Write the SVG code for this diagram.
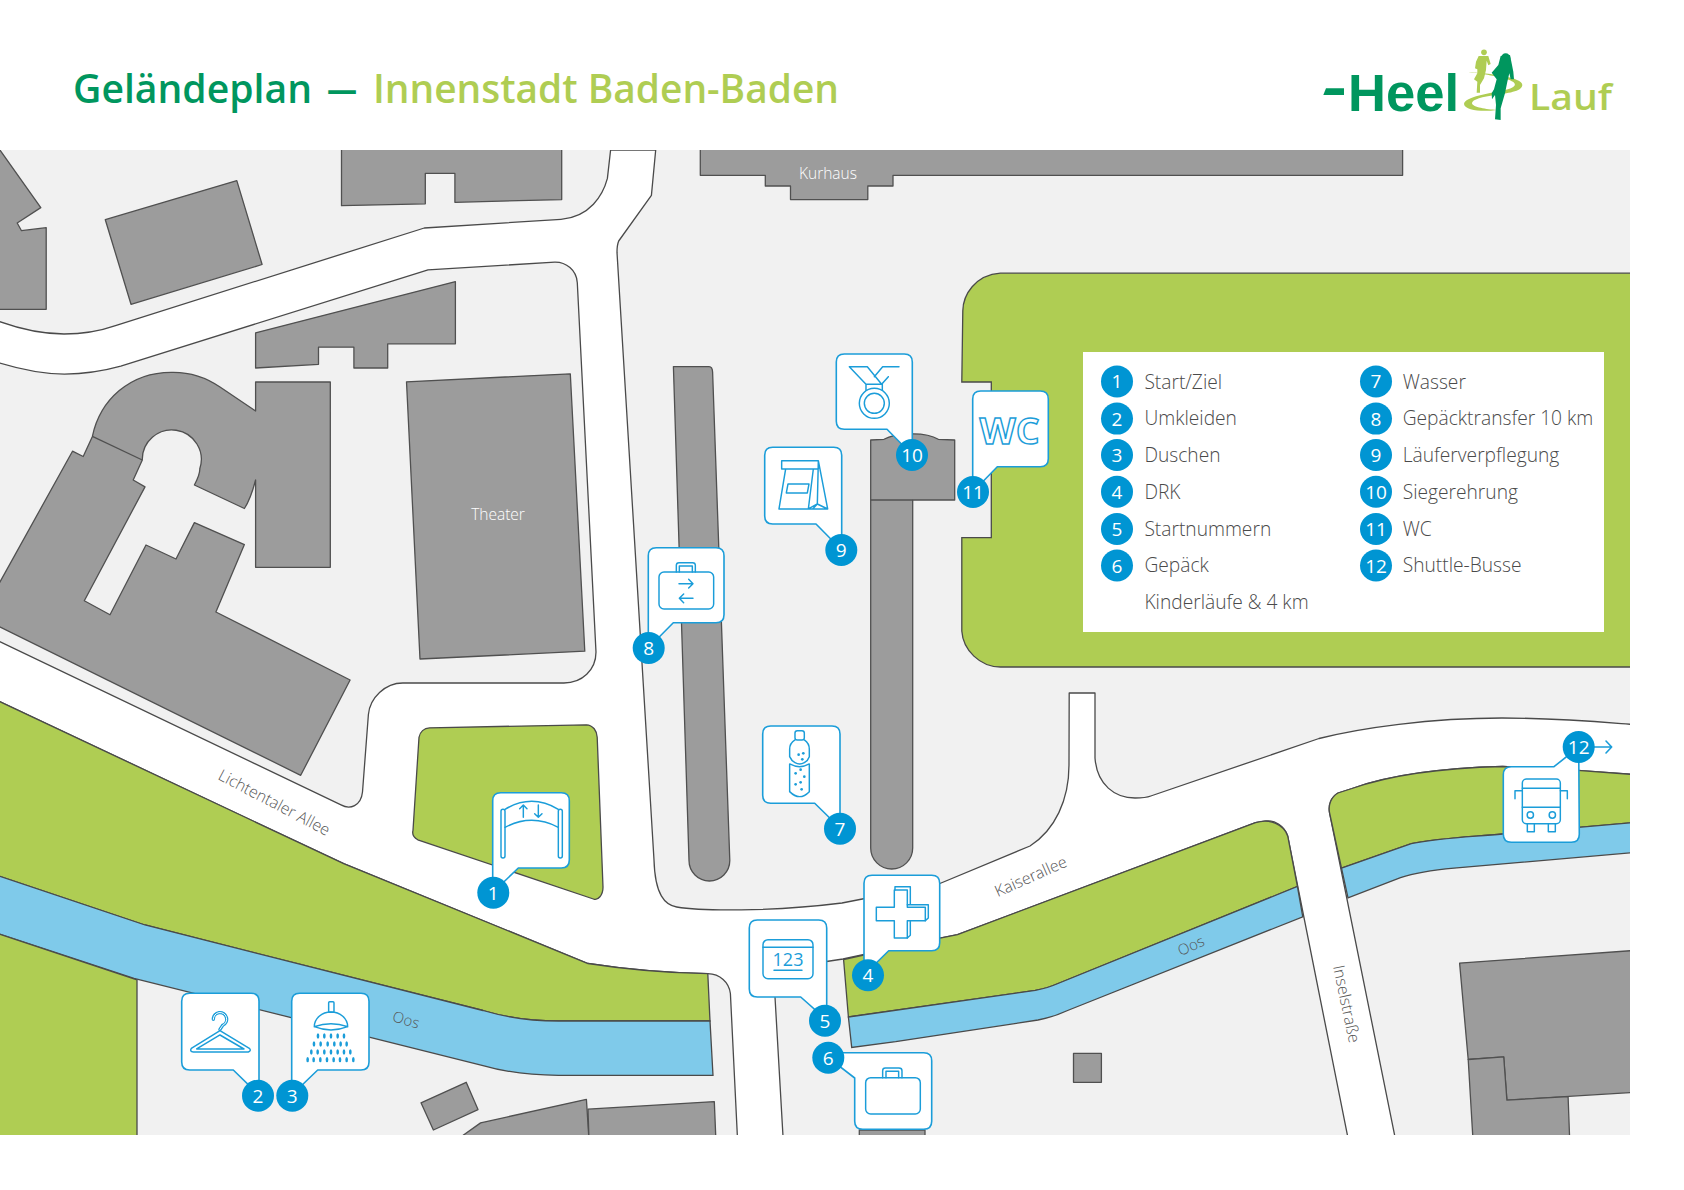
<svg xmlns="http://www.w3.org/2000/svg" width="1684" height="1190" viewBox="0 0 1684 1190">
<style>
text{font-family:"Open Sans","Noto Sans","Liberation Sans",sans-serif}
.b{fill:#9c9c9c;stroke:#505050;stroke-width:1.3;stroke-linejoin:round}
.r{fill:#fff;stroke:#4a4a4a;stroke-width:1.3;stroke-linejoin:round}
.g{fill:#afcd53;stroke:#4a4a4a;stroke-width:1.3}
.w{fill:#7fcaea;stroke:#4a4a4a;stroke-width:1.3}
.n{fill:none}
.c{fill:#fff;stroke:#1b9dd9;stroke-width:1.6;stroke-linejoin:round}
.d{fill:#0095d3}
.t{fill:#fff;font-size:19px;text-anchor:middle}
.l{fill:#4a4a4a;font-size:19.2px;font-weight:300}
.s{fill:#555;font-size:16px;font-weight:300;text-anchor:middle}
.m{fill:#fff;font-size:15.5px;font-weight:300;text-anchor:middle}
.i{fill:none;stroke:#1b9dd9;stroke-width:4.4;stroke-linejoin:round;stroke-linecap:round}
.f{fill:#1b9dd9;stroke:none}
</style>
<defs>
<clipPath id="map"><rect x="0" y="150" width="1630" height="985"/></clipPath>
</defs>
<g id="title">
<text x="73" y="103" font-size="39" font-weight="600" fill="#00965e" textLength="239" lengthAdjust="spacingAndGlyphs">Geländeplan</text>
<text x="327" y="103" font-size="39" font-weight="600" fill="#00965e" textLength="30" lengthAdjust="spacingAndGlyphs">—</text>
<text x="373" y="103" font-size="39" font-weight="600" fill="#afcd53" textLength="466" lengthAdjust="spacingAndGlyphs">Innenstadt Baden-Baden</text>
</g>
<g id="logo">
<path d="M1323.3 95L1326 88.3H1344V95Z" fill="#00965e"/>
<text x="1348" y="111" font-size="51" font-weight="700" fill="#00965e" style="font-family:'Liberation Sans',sans-serif" textLength="111" lengthAdjust="spacingAndGlyphs">Heel</text>
<text x="1529" y="110" font-size="36" font-weight="600" fill="#afcd53" textLength="83" lengthAdjust="spacingAndGlyphs">Lauf</text>
<g transform="translate(1460 40) scale(.3333)">
<path fill="#afcd53" d="M25 96C90 100 188 112 187 135C186 155 140 160 105 165C70 170 35 178 36 190C38 202 80 208 110 210C70 216 14 212 12 192C14 170 90 160 135 150C160 144 172 136 160 126C140 112 70 102 25 96Z"/>
<circle cx="72" cy="37" r="8.5" fill="#afcd53"/>
<path fill="#afcd53" d="M56 48L85 48L92 72L85 76L80 62L78 90L72 115L60 135L60 158L50 158L52 125L42 118L52 100L52 88L45 85L48 65Z"/>
<ellipse cx="137" cy="55" rx="14" ry="15" fill="#00965e"/>
<path fill="#00965e" d="M122 48L150 45L155 70L160 95L162 118L152 118L148 100L142 125L135 160L122 205L122 240L105 238L108 195L105 165L96 178L95 160L102 148L110 118L95 98L115 75Z"/>
</g>
</g>
<g id="map-base" clip-path="url(#map)">
<rect x="0" y="150" width="1630" height="985" fill="#f1f1f1"/>
<path class="r" d="M-10 318C20 330 42 334 64 334C82 334 100 331 115.5 325.6L424.3 228L561 219.3C590 217 603 195 607.4 178.4L610.6 150L655.7 150L651.4 195.4L618.7 241C617 245 617 250 617 252.4L654 860C655 895 665 905 676.7 907C700 911 770 912 842 903L938.7 884L1030 846C1055 830 1069 800 1069 765L1069.2 693H1095V758C1097 785 1115 798 1135 798C1142 798 1147 797.5 1150.8 796L1319 738.5C1360 728 1430 718 1502 718C1560 718 1600 722 1640 725L1640 775L1577.7 770.3L1502.6 766.5C1440 768 1390 775 1352 788.5L1338 793C1331 797 1328 805 1329.6 813L1396.6 1145H1349.4L1287.7 836C1284 825 1274 820 1266 821L1255.5 822.7L957.5 934.6L938.7 938.4L843 959L790 967C778 970 773 980 775 997L783.5 1145H737.8L730.4 993.5C729 982 720 974 707.8 973.7C670 973 630 970 588 963.5L343.7 863.7L-10 697L-10 637L341 804.9C350 810 361 806 362.5 792L368.4 714.5C370 698 385 683 402.8 683H563.9C582 683 596 670 596 652L577.3 282.7C576.5 270 566 262 554.8 262.2L428 269.8L120.8 366.2C100 372 82 374 64.4 374.2C42 374 20 370 -10 360Z"/>
<path class="g" d="M-10 697L343.7 863.7L588 963.5C630 970 670 973 707.8 973.7L710 1021H558.5C530 1021 505 1017 483 1010.5L145 925L-10 873Z"/>
<path class="w" d="M-10 873L145 925L483 1010.5C505 1017 530 1021 558.5 1021H710L713 1075.4H558.5C530 1075 505 1072 483 1065.6L134 978.3L-10 931Z"/>
<path class="g" d="M-10 931L137 980V1145H-10Z"/>
<path class="g" d="M429.6 727.8L586.4 724.8C593 725 597 731 597.2 737.3L603 887.2C603 895 598 901 593.4 899L417.8 839.8C413 837 412 834 413 830.3L419 737.3C420 732 424 728 429.6 727.8Z"/>
<path class="g" d="M1640 273.2H1000.4C975 275 963 295 962.8 311L961.8 382H991.3V537.7H961.8V631C963 650 980 667 1000.4 667H1640Z"/>
<path class="g" d="M843.6 959.7L938.7 938.4L957.5 934.6L1255.5 822.7C1270 818 1284 825 1287.7 836L1297.4 886.5L1056.8 984C1050 987 1042 989 1035.3 990.4L848.4 1017Z"/>
<path class="w" d="M848.4 1017L1035.3 990.4C1042 989 1050 987 1056.8 984L1297.4 886.5L1302.8 916.8L1067.6 1010.5C1058 1015 1048 1018 1038 1020L895.7 1041.7L851.7 1047.4Z"/>
<path class="g" d="M1329.6 813C1328 805 1331 797 1338 793L1352 788.5C1390 775 1440 768 1502.6 766.5L1577.7 770.3L1640 775V822L1502.6 834C1470 837 1440 838 1411.3 843.6L1341.5 868.2Z"/>
<path class="w" d="M1341.5 868.2L1411.3 843.6C1440 838 1470 837 1502.6 834L1640 822V852L1454 868.2C1435 870 1418 872 1400.5 877.7L1348 897.8Z"/>
<path class="b" d="M-10 136L40.8 207.6L17.2 223L21.5 230.7L46.2 227.7V309.3H-10Z"/>
<path class="b" d="M105.3 219.7L236.8 180.6L262.1 264.5L131 304.3Z"/>
<path class="b" d="M341.5 140H561.7V199.6L454.9 202.3V173.4H425.3V203.8L341.5 205.7Z"/>
<path class="b" d="M700.3 140V175.3H765.3V186H790.5V199.6H867.8V186H893V175.3H1402.6V140Z"/>
<path class="b" d="M255.6 332.8L455.4 281.6V343.8H387.7V368H353.9V347.2H318.5V364.3L255.6 368Z"/>
<path class="b" d="M406.5 381.8L570.3 373.8L584.8 651.2L420 659Z"/>
<path class="b" d="M92.4 436.4C100 400 130 372 172 372.3C190 372 207 378 220 387L255.6 411V382H330.3V567.3H255.6V480C253 490 250 500 244.4 508.5L194.4 485C198 478 200 473 199.8 468.7A29.5 29.5 0 1 0 142.3 460L133.2 480L145 486.9L84.3 600.7L110 614.7L146 545L176 559L194.4 522.6L244.4 544.6L215.9 612L350.1 680L300.7 775.3L-10 622L-10 600L72.5 451.2L83.2 456.5Z"/>
<path class="b n" d="M92.4 436.4L142.3 460"/>
<path class="b" d="M673.4 366.6H709Q712.4 366.6 712.6 372L729.8 860.6A20.4 20.4 0 0 1 689 860.6Z"/>
<path class="b" d="M870.7 440L884 439.3C895 433 925 431 938.3 439.3L954.7 440V500H912.7V848A21 21 0 0 1 870.7 848Z"/>
<path class="b n" d="M870.7 500H912.7"/>
<path class="b" d="M421 1102.8L466.2 1082.3L478 1109.6L433.4 1130Z"/>
<path class="b" d="M456.5 1140L480.6 1122.9L586.4 1099.3L589 1140Z"/>
<path class="b" d="M588 1109.2L714.3 1101.6L715.9 1140H589Z"/>
<path class="b" d="M859.3 1130H925V1140H859.3Z"/>
<path class="b" d="M1073.5 1053.4H1101.4V1082.3H1073.5Z"/>
<path class="b" d="M1459.6 963.1L1640 950V1092L1506.9 1100.1L1503.7 1056.8L1468.2 1059.5Z"/>
<path class="b" d="M1468.2 1059.5L1503.7 1056.8L1506.9 1100.1L1568.1 1096.7L1569.7 1140H1473Z"/>
</g>
<g id="map-labels">
<text class="m" x="828" y="179">Kurhaus</text>
<text class="m" x="498" y="520">Theater</text>
<text class="s" x="274" y="808" transform="rotate(27.7 274 803)">Lichtentaler Allee</text>
<text class="s" x="406" y="1025" transform="rotate(16 406 1020)" style="font-size:15px">Oos</text>
<text class="s" x="1191" y="951" transform="rotate(-25 1191 946)" style="font-size:15px">Oos</text>
<text class="s" x="1031" y="882" transform="rotate(-24 1031 877)">Kaiserallee</text>
<text class="s" x="1346" y="1009" transform="rotate(78 1346 1004)">Inselstraße</text>
</g>
<g id="legend">
<rect x="1083" y="352" width="521" height="280" fill="#fff"/>
<circle class="d" cx="1117" cy="381.4" r="16"/><text class="t" x="1117" y="388.4">1</text><text class="l" x="1144.4" y="389">Start/Ziel</text>
<circle class="d" cx="1117" cy="418.6" r="16"/><text class="t" x="1117" y="425.6">2</text><text class="l" x="1144.4" y="425.3">Umkleiden</text>
<circle class="d" cx="1117" cy="455" r="16"/><text class="t" x="1117" y="462">3</text><text class="l" x="1144.4" y="462">Duschen</text>
<circle class="d" cx="1117" cy="491.8" r="16"/><text class="t" x="1117" y="498.8">4</text><text class="l" x="1144.4" y="499">DRK</text>
<circle class="d" cx="1117" cy="529" r="16"/><text class="t" x="1117" y="536">5</text><text class="l" x="1144.4" y="535.7">Startnummern</text>
<circle class="d" cx="1117" cy="565.5" r="16"/><text class="t" x="1117" y="572.5">6</text><text class="l" x="1144.4" y="572.3">Gepäck</text>
<text class="l" x="1144.4" y="608.7">Kinderläufe &amp; 4 km</text>
<circle class="d" cx="1376" cy="381.4" r="16"/><text class="t" x="1376" y="388.4">7</text><text class="l" x="1402.7" y="389">Wasser</text>
<circle class="d" cx="1376" cy="418.6" r="16"/><text class="t" x="1376" y="425.6">8</text><text class="l" x="1402.7" y="425.3">Gepäcktransfer 10 km</text>
<circle class="d" cx="1376" cy="455" r="16"/><text class="t" x="1376" y="462">9</text><text class="l" x="1402.7" y="462">Läuferverpflegung</text>
<circle class="d" cx="1376" cy="491.8" r="16"/><text class="t" x="1376" y="498.8">10</text><text class="l" x="1402.7" y="499">Siegerehrung</text>
<circle class="d" cx="1376" cy="529" r="16"/><text class="t" x="1376" y="536">11</text><text class="l" x="1402.7" y="535.7">WC</text>
<circle class="d" cx="1376" cy="565.5" r="16"/><text class="t" x="1376" y="572.5">12</text><text class="l" x="1402.7" y="572.3">Shuttle-Busse</text>
</g>
<g id="connectors">
<path d="M1594 747H1611.7M1606 741L1611.7 747L1606 753" fill="none" stroke="#1b9dd9" stroke-width="1.6" stroke-linecap="round" stroke-linejoin="round"/>
</g>
<g id="node-1">
<path class="c" d="M500.7 792.7H561.3Q569.3 792.7 569.3 800.7V860Q569.3 868 561.3 868H518.3L492.7 892.7V800.7Q492.7 792.7 500.7 792.7Z"/>
<g class="i" transform="translate(470 780) scale(.3333)"><path d="M105 88Q185 40 265 88M105 142Q185 100 265 142"/><rect x="93" y="88" width="12" height="146" rx="6"/><rect x="265" y="88" width="12" height="146" rx="6"/><path d="M160 112V75M149 86L160 75L171 86M205 75V112M194 101L205 112L216 101"/></g>
<circle class="d" cx="493.3" cy="892.7" r="16"/><text class="t" x="493.3" y="899.7">1</text>
</g>
<g id="node-2">
<path class="c" d="M189.7 993.3H251Q259 993.3 259 1001.3V1095L233.3 1070H189.7Q181.7 1070 181.7 1062V1001.3Q181.7 993.3 189.7 993.3Z"/>
<g transform="translate(170 980) scale(.3333)"><path d="M130 118A20 20 0 1 1 158 136L150 148" fill="none" stroke="#1b9dd9" stroke-width="10" stroke-linecap="round"/><path d="M130 118A20 20 0 1 1 158 136L150 148" fill="none" stroke="#fff" stroke-width="3" stroke-linecap="round"/><path class="i" d="M150 152L64 205Q58 215 70 216H235Q245 212 238 205ZM150 165L80 207H222Z"/></g>
<circle class="d" cx="258" cy="1095.7" r="16"/><text class="t" x="258" y="1102.7">2</text>
</g>
<g id="node-3">
<path class="c" d="M299.7 993.3H361Q369 993.3 369 1001.3V1062Q369 1070 361 1070H317.7L291.7 1095V1001.3Q291.7 993.3 299.7 993.3Z"/>
<g transform="translate(170 980) scale(.3333)"><g class="i"><rect x="476" y="65" width="16" height="32" rx="3"/><path d="M433 140A50 44 0 0 1 533 140Q483 160 433 140ZM433 140Q483 122 533 140"/></g>
<g class="f"><ellipse cx="444" cy="168" rx="4" ry="8"/><ellipse cx="463" cy="168" rx="4" ry="8"/><ellipse cx="483" cy="168" rx="4" ry="8"/><ellipse cx="503" cy="168" rx="4" ry="8"/><ellipse cx="522" cy="168" rx="4" ry="8"/>
<ellipse cx="432" cy="192" rx="4" ry="8"/><ellipse cx="452" cy="192" rx="4" ry="8"/><ellipse cx="473" cy="192" rx="4" ry="8"/><ellipse cx="493" cy="192" rx="4" ry="8"/><ellipse cx="512" cy="192" rx="4" ry="8"/><ellipse cx="530" cy="192" rx="4" ry="8"/>
<ellipse cx="424" cy="216" rx="4" ry="8"/><ellipse cx="443" cy="216" rx="4" ry="8"/><ellipse cx="463" cy="216" rx="4" ry="8"/><ellipse cx="483" cy="216" rx="4" ry="8"/><ellipse cx="503" cy="216" rx="4" ry="8"/><ellipse cx="522" cy="216" rx="4" ry="8"/><ellipse cx="541" cy="216" rx="4" ry="8"/>
<ellipse cx="413" cy="239" rx="4" ry="8"/><ellipse cx="431" cy="239" rx="4" ry="8"/><ellipse cx="451" cy="239" rx="4" ry="8"/><ellipse cx="471" cy="239" rx="4" ry="8"/><ellipse cx="491" cy="239" rx="4" ry="8"/><ellipse cx="510" cy="239" rx="4" ry="8"/><ellipse cx="530" cy="239" rx="4" ry="8"/><ellipse cx="550" cy="239" rx="4" ry="8"/></g></g>
<circle class="d" cx="292.3" cy="1095.7" r="16"/><text class="t" x="292.3" y="1102.7">3</text>
</g>
<g id="node-4">
<path class="c" d="M872 875.3H931.7Q939.7 875.3 939.7 883.3V942.7Q939.7 950.7 931.7 950.7H888.7L864 975V883.3Q864 875.3 872 875.3Z"/>
<g class="i" transform="translate(730 860) scale(.3333)"><path d="M493 90H532V142H586V182H532V234H493V182H439V142H493Z"/><path d="M495 90V80H541V134H595V174L586 182M541 134H532M541 226V182M541 226L532 234"/></g>
<circle class="d" cx="868" cy="975.3" r="16"/><text class="t" x="868" y="982.3">4</text>
</g>
<g id="node-5">
<path class="c" d="M757.3 920H818.7Q826.7 920 826.7 928V1020L800.7 997H757.3Q749.3 997 749.3 989V928Q749.3 920 757.3 920Z"/>
<g class="i" transform="translate(730 860) scale(.3333)"><rect x="99" y="239" width="150" height="117" rx="15"/><path d="M99 262H249M132 331H216"/></g>
<text x="788" y="966" font-size="18" fill="#1b9dd9" text-anchor="middle">123</text>
<circle class="d" cx="825" cy="1020.7" r="16"/><text class="t" x="825" y="1027.7">5</text>
</g>
<g id="node-6">
<path class="c" d="M862.7 1052.7H923.7Q931.7 1052.7 931.7 1060.7V1121.3Q931.7 1129.3 923.7 1129.3H862.7Q854.7 1129.3 854.7 1121.3V1078L828.3 1057.7L828.3 1052.7Z"/>
<g class="i" transform="translate(730 860) scale(.3333)"><rect x="407" y="653" width="164" height="109" rx="15"/><path d="M458 653V632Q458 624 466 624H507Q516 624 516 632V653M468 653V634H506V653"/></g>
<circle class="d" cx="828.3" cy="1057.7" r="16"/><text class="t" x="828.3" y="1064.7">6</text>
</g>
<g id="node-7">
<path class="c" d="M770.7 726H832Q840 726 840 734V828L814.7 803.3H770.7Q762.7 803.3 762.7 795.3V734Q762.7 726 770.7 726Z"/>
<g transform="translate(640 540) scale(.3333)"><g class="i"><rect x="465" y="572" width="28" height="28" rx="7"/><path d="M465 600Q449 610 449 628V650Q454 662 465 668Q479 676 493 668Q504 662 508 650V628Q508 610 493 600M449 672V755Q479 785 508 755V672Q479 688 449 672Z"/></g>
<g class="f"><circle cx="476" cy="644" r="4"/><circle cx="490" cy="640" r="4"/><circle cx="487" cy="658" r="4"/><circle cx="482" cy="689" r="4"/><circle cx="467" cy="700" r="4"/><circle cx="493" cy="710" r="4"/><circle cx="482" cy="727" r="4"/><circle cx="467" cy="733" r="4"/><circle cx="485" cy="748" r="4"/></g></g>
<circle class="d" cx="840" cy="828.7" r="16"/><text class="t" x="840" y="835.7">7</text>
</g>
<g id="node-8">
<path class="c" d="M656.3 547.7H716Q724 547.7 724 555.7V614.7Q724 622.7 716 622.7H673.3L648.3 648V555.7Q648.3 547.7 656.3 547.7Z"/>
<g class="i" transform="translate(640 540) scale(.3333)"><rect x="57" y="96" width="164" height="111" rx="15"/><path d="M109 96V76Q109 68 117 68H158Q166 68 166 76V96M118 96V78H157V96M117 131H159M146 118L159 131L146 144M159 175H118M131 162L118 175L131 188"/></g>
<circle class="d" cx="648.7" cy="648" r="16"/><text class="t" x="648.7" y="655">8</text>
</g>
<g id="node-9">
<path class="c" d="M772.7 447.3H833.7Q841.7 447.3 841.7 455.3V550L816 524H772.7Q764.7 524 764.7 516V455.3Q764.7 447.3 772.7 447.3Z"/>
<g class="i" transform="translate(760 340) scale(.3333)"><path d="M65 362H175V387H65ZM77 387L57 507H203L175 362M160 387L145 507M145 507L172 492L203 507M158 507L172 492M172 492L175 362M84 432H147L142 459H79Z"/></g>
<circle class="d" cx="841.3" cy="550" r="16"/><text class="t" x="841.3" y="557">9</text>
</g>
<g id="node-10">
<path class="c" d="M844.3 354H904.3Q912.3 354 912.3 362V455L887 429.3H844.3Q836.3 429.3 836.3 421.3V362Q836.3 354 844.3 354Z"/>
<g class="i" transform="translate(760 340) scale(.3333)"><path d="M268 80H322L365 133H318ZM417 80H368L343 110M365 133L385 110M318 133V150M367 133V150"/><circle cx="343" cy="190" r="45"/><circle cx="343" cy="190" r="30"/></g>
<circle class="d" cx="912" cy="455" r="16"/><text class="t" x="912" y="462">10</text>
</g>
<g id="node-11">
<path class="c" d="M980.7 391H1040.3Q1048.3 391 1048.3 399V458.7Q1048.3 466.7 1040.3 466.7H997.3L972.7 492V399Q972.7 391 980.7 391Z"/>
<text x="1009.5" y="444" font-size="36" font-weight="700" fill="#fff" stroke="#1b9dd9" stroke-width="1.4" text-anchor="middle" textLength="60" lengthAdjust="spacingAndGlyphs">WC</text>
<circle class="d" cx="973" cy="492" r="16"/><text class="t" x="973" y="499">11</text>
</g>
<g id="node-12">
<path class="c" d="M1511.3 766.7H1554L1578.7 747L1579.3 834.3Q1579.3 842.3 1571.3 842.3H1511.3Q1503.3 842.3 1503.3 834.3V774.7Q1503.3 766.7 1511.3 766.7Z"/>
<g class="i" transform="translate(1490 720) scale(.3333)"><rect x="97" y="177" width="114" height="134" rx="12"/><path d="M97 205H211M97 262H211M97 212H75V236M211 212H232V236"/><circle cx="121" cy="285" r="9.5"/><circle cx="187" cy="285" r="9.5"/><path d="M112 311V335H133V311M175 311V335H196V311"/></g>
<circle class="d" cx="1578.7" cy="747" r="16"/><text class="t" x="1578.7" y="754">12</text>
</g>
</svg>
